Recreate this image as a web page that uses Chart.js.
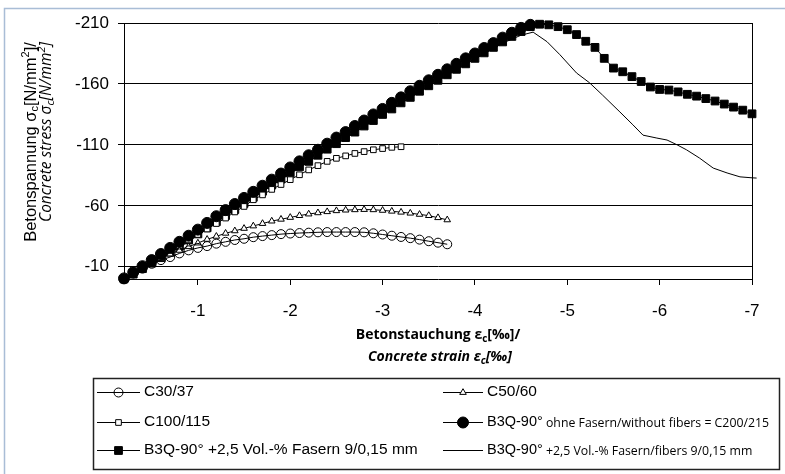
<!DOCTYPE html>
<html>
<head>
<meta charset="utf-8">
<script src="https://cdn.jsdelivr.net/npm/chart.js@4.4.0/dist/chart.umd.min.js"></script>
<style>
  html, body { margin: 0; padding: 0; background: #fff; }
</style>
</head>
<body>
<canvas id="stress-strain" width="785" height="474"></canvas>
<script>
// strain in per mille, stress in N/mm2 (compression negative)
var strainSteps = [-0.2, -0.3, -0.4, -0.5, -0.6, -0.7, -0.8, -0.9,
  -1, -1.1, -1.2, -1.3, -1.4, -1.5, -1.6, -1.7, -1.8, -1.9,
  -2, -2.1, -2.2, -2.3, -2.4, -2.5, -2.6, -2.7, -2.8, -2.9,
  -3, -3.1, -3.2, -3.3, -3.4, -3.5, -3.6, -3.7, -3.8, -3.9,
  -4, -4.1, -4.2, -4.3, -4.4, -4.5, -4.6, -4.7, -4.8, -4.9,
  -5, -5.1, -5.2, -5.3, -5.4, -5.5, -5.6, -5.7, -5.8, -5.9,
  -6, -6.1, -6.2, -6.3, -6.4, -6.5, -6.6, -6.7, -6.8, -6.9, -7];

var stressC30 = [0, -4.5, -8.5, -12.5, -15.5, -18, -21, -23.5, -25.5, -27, -29, -30.5,
  -32, -33, -34.3, -35.2, -36, -36.8, -37.3, -37.7, -38, -38.3, -38.5, -38.5, -38.5,
  -38.5, -38.3, -37.5, -36.5, -35.5, -34.5, -33.5, -32.3, -31, -29.8, -28.5];

var stressC50 = [0, -4.5, -9, -13, -17, -20.5, -23.5, -26.5, -29.5, -32.5, -35, -37.5,
  -39.5, -41.5, -43.5, -45.5, -47.5, -49, -50.5, -52, -53.3, -54.3, -55.2, -56, -56.5,
  -56.8, -57, -56.8, -56.3, -55.6, -54.8, -54, -53, -52, -50.3, -48.5];

var stressC100 = [-0.5, -5, -9.5, -14, -18.5, -23, -27.5, -32, -36.5, -41, -45.5, -50,
  -55, -59.5, -65, -69, -73.5, -77.5, -81.5, -85.5, -89.5, -93, -96.5, -99, -101,
  -103, -104.5, -106, -107, -108, -108.5];

var stressB3Q = [-0.5, -5.5, -10.5, -15.5, -20.5, -25.5, -30.5, -35.5, -40.5, -46, -51.5,
  -56.5, -61.5, -66.5, -71.5, -76.5, -81.5, -86.5, -91.5, -96.5, -101.5, -106, -111,
  -116, -120.5, -125.5, -130, -135, -139.5, -144.5, -149, -154, -158.5, -163, -167.5,
  -172, -176.5, -181, -185, -189.5, -193.5, -198, -202, -206, -208.5];

var stressB3QFibres = [0, -4, -8.5, -13, -17.5, -22, -27, -32, -37, -42, -47, -52, -57,
  -62, -67, -72, -77, -82, -87, -92, -96.5, -101.5, -106.5, -111, -116, -120.5, -125.5,
  -130, -135, -139.5, -144.5, -149, -154, -158.5, -163, -167.5, -172, -176.5, -181,
  -185.5, -190, -194.5, -199, -203, -207, -209, -208.5, -207, -204.5, -200.5, -195,
  -190, -181, -173, -170, -166, -162, -157.5, -155.5, -155, -153.5, -151.5, -150,
  -148, -146, -143.5, -141, -138.5, -135.5];

// second fibre specimen, plain line
var strainFibreLine = [-0.2, -0.5, -1, -1.5, -2, -2.5, -3, -3.5, -4, -4.3, -4.5, -4.63,
  -4.78, -4.92, -5.1, -5.24, -5.38, -5.57, -5.71, -5.82, -5.97, -6.08, -6.19, -6.29,
  -6.43, -6.58, -6.73, -6.87, -7, -7.05];
var stressFibreLine = [0, -13, -37, -61.5, -86.5, -110.5, -134.5, -158, -180.5, -193.5,
  -200, -202.5, -194.7, -184, -169, -161, -151, -137, -126.5, -118, -115.6, -114, -110,
  -106, -99.3, -91, -87, -83.8, -83, -82.8];

var seriesLabels = ['C30/37', 'C50/60', 'C100/115',
  'B3Q-90° ohne Fasern/without fibers = C200/215',
  'B3Q-90° +2,5 Vol.-% Fasern 9/0,15 mm',
  'B3Q-90° +2,5 Vol.-% Fasern/fibers 9/0,15 mm'];

var xTicks = [-1, -2, -3, -4, -5, -6, -7];
var yTicks = [-10, -60, -110, -160, -210];

function toPoints(stress, strain) {
  strain = strain || strainSteps;
  return stress.map(function(s, i) { return { x: strain[i], y: s }; });
}

var SANS = '"Liberation Sans", Arial, sans-serif';
var HUMAN = '"Open Sans", sans-serif';

function series(i, data, style, radius, fill, order) {
  return {
    label: seriesLabels[i],
    data: data,
    order: order,
    showLine: true,
    borderColor: '#000',
    borderWidth: 1,
    pointStyle: style,
    pointRadius: radius,
    pointHoverRadius: radius,
    pointBorderWidth: 1,
    pointBorderColor: '#000',
    pointBackgroundColor: fill,
    backgroundColor: fill,
    tension: 0,
    clip: false
  };
}

var datasets = [
  series(0, toPoints(stressC30), 'circle', 4.5, 'rgba(255,255,255,0)', 1),
  series(1, toPoints(stressC50), 'triangle', 3.8, '#fff', 2),
  series(2, toPoints(stressC100), 'rect', 4, '#fff', 3),
  series(3, toPoints(stressB3Q), 'circle', 5.5, '#000', 0),
  series(4, toPoints(stressB3QFibres), 'rect', 5.5, '#000', 4),
  series(5, toPoints(stressFibreLine, strainFibreLine), 'circle', 0, '#000', 5)
];

// text with sub/superscripts: runs of [text, font, dy]
function drawRuns(ctx, runs, cx, cy) {
  var total = 0;
  runs.forEach(function(r) { ctx.font = r[1]; total += ctx.measureText(r[0]).width; });
  var x = cx - total / 2;
  runs.forEach(function(r) {
    ctx.font = r[1];
    ctx.fillText(r[0], x, cy + (r[2] || 0));
    x += ctx.measureText(r[0]).width;
  });
}

var paperLayout = {
  id: 'paperLayout',
  beforeDraw: function(chart) {
    var ctx = chart.ctx;
    ctx.save();
    ctx.strokeStyle = '#a9bdd6';
    ctx.lineWidth = 1.5;
    ctx.beginPath();
    ctx.moveTo(4.5, 474);
    ctx.lineTo(4.5, 8.5);
    ctx.lineTo(785, 8.5);
    ctx.stroke();
    ctx.restore();
  },
  afterDraw: function(chart) {
    var ctx = chart.ctx, a = chart.chartArea;
    ctx.save();
    // right frame of plot
    ctx.strokeStyle = '#000';
    ctx.lineWidth = 1;
    ctx.beginPath();
    ctx.moveTo(Math.round(a.right) + 0.5, a.top);
    ctx.lineTo(Math.round(a.right) + 0.5, a.bottom);
    ctx.stroke();

    ctx.fillStyle = '#000';
    ctx.textBaseline = 'middle';
    ctx.textAlign = 'left';

    // y axis title (rotated)
    var yMain = '16.5px ' + SANS, ySmall = '11px ' + SANS;
    var yIt = 'italic 15.5px ' + HUMAN, yItSmall = 'italic 11px ' + HUMAN;
    ctx.save();
    ctx.translate(31, 142);
    ctx.rotate(-Math.PI / 2);
    drawRuns(ctx, [['Betonspannung σ', yMain], ['c', ySmall, 4], ['[N/mm', yMain],
      ['2', ySmall, -5], [']/', yMain]], 0, 0);
    ctx.restore();
    ctx.save();
    ctx.translate(47, 132);
    ctx.rotate(-Math.PI / 2);
    drawRuns(ctx, [['Concrete stress σ', yIt], ['c', yItSmall, 4], ['[N/mm', yIt],
      ['2', yItSmall, -5], [']', yIt]], 0, 0);
    ctx.restore();

    // x axis title
    var xb = 'bold 14px ' + HUMAN, xbs = 'bold 10px ' + HUMAN;
    var xi = 'italic bold 14px ' + HUMAN, xis = 'italic bold 10px ' + HUMAN;
    drawRuns(ctx, [['Betonstauchung ε', xb], ['c', xbs, 4], ['[‰]/', xb]], 438, 335);
    drawRuns(ctx, [['Concrete strain ε', xi], ['c', xis, 4], ['[‰]', xi]], 440, 357);

    // legend box
    ctx.strokeStyle = '#222';
    ctx.lineWidth = 1.5;
    ctx.strokeRect(93.5, 378.5, 686, 91);

    var cols = [{ x0: 97, x1: 140, tx: 144 }, { x0: 443, x1: 483, tx: 487 }];
    var rows = [392, 422, 450];
    var slots = [[0, 0], [1, 0], [0, 1], [1, 1], [0, 2], [1, 2]];
    datasets.forEach(function(ds, i) {
      var c = cols[slots[i][0]], y = rows[slots[i][1]];
      ctx.strokeStyle = '#000';
      ctx.lineWidth = 1;
      ctx.beginPath();
      ctx.moveTo(c.x0, y + 0.5);
      ctx.lineTo(c.x1, y + 0.5);
      ctx.stroke();
      if (ds.pointRadius > 0) {
        ctx.fillStyle = ds.pointBackgroundColor;
        ctx.strokeStyle = '#000';
        Chart.helpers.drawPoint(ctx, { pointStyle: ds.pointStyle, radius: ds.pointRadius,
          borderWidth: 1, rotation: 0 }, (c.x0 + c.x1) / 2, y + 0.5);
      }
      ctx.fillStyle = '#000';
      var label = ds.label;
      if (i === 3 || i === 5) {
        var cut = label.indexOf(' ');
        ctx.font = '14.5px ' + SANS;
        ctx.fillText(label.slice(0, cut), c.tx, y);
        var w = ctx.measureText(label.slice(0, cut)).width;
        ctx.font = '12.3px ' + HUMAN;
        ctx.fillText(label.slice(cut), c.tx + w, y + 1);
      } else {
        ctx.font = '15.5px ' + SANS;
        ctx.fillText(label, c.tx, y);
      }
    });
    ctx.restore();
  }
};

new Chart(document.getElementById('stress-strain'), {
  type: 'scatter',
  data: { datasets: datasets },
  plugins: [paperLayout],
  options: {
    responsive: false,
    animation: false,
    devicePixelRatio: 1,
    layout: { padding: { top: 23, right: 33, bottom: 155, left: 0 } },
    plugins: { legend: { display: false }, tooltip: { enabled: false } },
    scales: {
      x: {
        type: 'linear',
        min: -7,
        max: -0.2,
        reverse: true,
        afterBuildTicks: function(s) { s.ticks = xTicks.map(function(v) { return { value: v }; }); },
        afterFit: function(s) { s.height = 40; },
        grid: { drawOnChartArea: false, drawTicks: true, tickLength: 6, color: '#000' },
        border: { color: '#000', width: 1 },
        ticks: {
          color: '#000',
          font: { family: SANS, size: 17 },
          padding: 16,
          maxRotation: 0,
          autoSkip: false,
          callback: function(v) { return String(v); }
        }
      },
      y: {
        type: 'linear',
        min: -210,
        max: 0,
        reverse: true,
        afterBuildTicks: function(s) { s.ticks = yTicks.map(function(v) { return { value: v }; }); },
        afterFit: function(s) { s.width = 124; },
        grid: { color: '#000', lineWidth: 1, tickLength: 6 },
        border: { color: '#000', width: 1 },
        ticks: {
          color: '#000',
          font: { family: SANS, size: 17 },
          padding: 9,
          autoSkip: false,
          callback: function(v) { return String(v); }
        }
      }
    }
  }
});
</script>
</body>
</html>
